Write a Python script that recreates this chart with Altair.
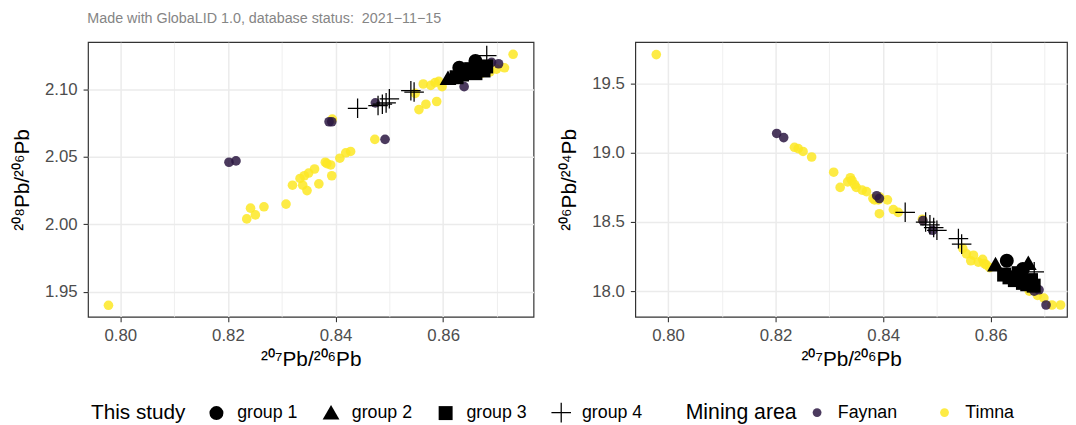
import altair as alt
import pandas as pd

# ---------------- data ----------------
timna_x = [0.7978, 0.8235, 0.8242, 0.8251, 0.8267, 0.8308, 0.8320, 0.8334, 0.8339, 0.8342,
           0.8347, 0.8350, 0.8361, 0.8369, 0.8381, 0.8384, 0.8391, 0.8393, 0.8394, 0.8408,
           0.8419, 0.8428, 0.8473, 0.8548, 0.8555, 0.8563, 0.8568, 0.8577, 0.8585, 0.8588,
           0.8592, 0.8598, 0.8672, 0.8687, 0.8699, 0.8714, 0.8730]
timna_y208 = [1.940, 2.004, 2.012, 2.007, 2.013, 2.015, 2.029, 2.034, 2.029, 2.036,
              2.025, 2.038, 2.041, 2.030, 2.046, 2.045, 2.044, 2.036, 2.078, 2.049,
              2.053, 2.054, 2.063, 2.097, 2.085, 2.104, 2.089, 2.103, 2.105, 2.091,
              2.106, 2.102, 2.112, 2.113, 2.115, 2.116, 2.126]
timna_y204 = [19.71, 19.04, 19.03, 19.01, 18.97, 18.86, 18.75, 18.79, 18.82, 18.80,
              18.77, 18.75, 18.73, 18.72, 18.67, 18.66, 18.66, 18.56, 18.68, 18.66,
              18.59, 18.57, 18.52, 18.31, 18.27, 18.22, 18.26, 18.21, 18.23, 18.20,
              18.19, 18.17, 18.00, 17.97, 17.95, 17.90, 17.90]

faynan_x = [0.8202, 0.8215, 0.8388, 0.8393, 0.8474, 0.8492, 0.8639, 0.8662, 0.8681, 0.8690, 0.8703]
faynan_y208 = [2.046, 2.047, 2.076, 2.076, 2.090, 2.063, 2.102, 2.118, 2.116, 2.120, 2.119]
faynan_y204 = [19.14, 19.11, 18.69, 18.67, 18.51, 18.44, 18.09, 18.06, 18.00, 18.01, 17.90]

study_group = ["group 1", "group 1",
               "group 2", "group 2",
               "group 3", "group 3", "group 3", "group 3", "group 3", "group 3", "group 3", "group 3",
               "group 4", "group 4", "group 4", "group 4", "group 4", "group 4", "group 4", "group 4"]
study_x = [0.8630, 0.8660,
           0.8609, 0.8670,
           0.8625, 0.8635, 0.8645, 0.8652, 0.8660, 0.8668, 0.8675, 0.8680,
           0.8441, 0.8479, 0.8487, 0.8494, 0.8500, 0.8540, 0.8546, 0.8681]
study_y208 = [2.116, 2.121,
              2.108, 2.116,
              2.109, 2.111, 2.113, 2.115, 2.112, 2.116, 2.114, 2.117,
              2.086, 2.088, 2.089, 2.090, 2.093, 2.099, 2.098, 2.125]
study_y204 = [18.22, 18.16,
              18.19, 18.20,
              18.12, 18.10, 18.08, 18.13, 18.06, 18.05, 18.08, 18.04,
              18.57, 18.50, 18.48, 18.46, 18.44, 18.38, 18.34, 18.14]

area_names = ["Faynan", "Timna"]
area_colors = ["#2B1742", "#FDE725"]
group_names = ["group 1", "group 2", "group 3", "group 4"]
# larger triangle and a thin plus sign drawn as filled outlines (so they show in the legend too)
tri_path = "M0,-1.15L1.2,0.93L-1.2,0.93Z"
plus_path = ("M-1.4,-0.09L1.4,-0.09L1.4,0.09L-1.4,0.09Z"
             "M-0.09,-1.4L0.09,-1.4L0.09,1.4L-0.09,1.4Z")
group_shapes = ["circle", tri_path, "square", plus_path]

x_major = [0.80, 0.82, 0.84, 0.86]
x_minor = [0.81, 0.83, 0.85, 0.87]
y208_major = [1.95, 2.00, 2.05, 2.10]
y208_minor = [1.975, 2.025, 2.075, 2.125]
y204_major = [18.0, 18.5, 19.0, 19.5]
y204_minor = [18.25, 18.75, 19.25, 19.75]

title_text = "Made with GlobaLID 1.0, database status:\u00a0 2021\u221211\u221215"
x_title = "\u00b2\u2070\u2077Pb/\u00b2\u2070\u2076Pb"
y208_title = "\u00b2\u2070\u2078Pb/\u00b2\u2070\u2076Pb"
y204_title = "\u00b2\u2070\u2076Pb/\u00b2\u2070\u2074Pb"

FONT = "Liberation Sans"

mining_df = pd.DataFrame({
    "x": timna_x + faynan_x,
    "y208": timna_y208 + faynan_y208,
    "y204": timna_y204 + faynan_y204,
    "area": ["Timna"] * len(timna_x) + ["Faynan"] * len(faynan_x),
})
study_df = pd.DataFrame({"x": study_x, "y208": study_y208, "y204": study_y204, "group": study_group})


def make_axis(major, minor, fmt, title, orient, title_pad):
    test = "indexof([%s], datum.value) >= 0" % ",".join(repr(v) for v in major)
    return alt.Axis(
        values=major + minor, title=title, orient=orient,
        labelExpr=f"({test}) ? format(datum.value, '{fmt}') : ''",
        gridWidth={"condition": {"test": test, "value": 1.5}, "value": 0.8},
        tickOpacity={"condition": {"test": test, "value": 1}, "value": 0},
        titlePadding=title_pad, labelOverlap=False,
    )


LEG_Y = 366
color_legend = alt.Legend(
    title="Mining area", orient="none", legendX=605, legendY=LEG_Y, direction="horizontal",
    titleOrient="left", titleFontSize=21.5, titleFont=FONT, titleFontWeight="normal",
    titleColor="black", labelFontSize=18, labelFont=FONT, labelColor="black",
    symbolSize=80, symbolOpacity=0.85, symbolStrokeWidth=0, symbolType="circle",
    titlePadding=11, labelOffset=12, columnPadding=38, titleLimit=300,
)
shape_legend = alt.Legend(
    title="This study", orient="none", legendX=3, legendY=LEG_Y, direction="horizontal",
    titleOrient="left", titleFontSize=21, titleFont=FONT, titleFontWeight="normal",
    titleColor="black", labelFontSize=18, labelFont=FONT, labelColor="black",
    symbolSize=200, symbolFillColor="black", symbolStrokeWidth=0,
    titlePadding=22, labelOffset=12, columnPadding=24, titleLimit=300,
)


def panel(ycol, ydomain, ymajor, yminor, yfmt, ytitle, xdomain, width):
    xenc = alt.X("x:Q", scale=alt.Scale(domain=xdomain, nice=False, zero=False),
                 axis=make_axis(x_major, x_minor, ".2f", x_title, "bottom", 5))
    yenc = alt.Y(f"{ycol}:Q", scale=alt.Scale(domain=ydomain, nice=False, zero=False),
                 axis=make_axis(ymajor, yminor, yfmt, ytitle, "left", 12))
    mining = alt.Chart(mining_df).mark_circle(size=95, opacity=0.85).encode(
        x=xenc, y=yenc,
        color=alt.Color("area:N", scale=alt.Scale(domain=area_names, range=area_colors),
                        legend=color_legend),
    )
    study = alt.Chart(study_df).mark_point(
        filled=True, size=200, fill="black", strokeWidth=0, opacity=1
    ).encode(
        x=alt.X("x:Q"), y=alt.Y(f"{ycol}:Q"),
        shape=alt.Shape("group:N", scale=alt.Scale(domain=group_names, range=group_shapes),
                        legend=shape_legend),
    )
    return alt.layer(mining, study).properties(width=width, height=278)


left = panel("y208", [1.9315, 2.135], y208_major, y208_minor, ".2f", y208_title,
             [0.794, 0.8768], 451)
right = panel("y204", [17.815, 19.80], y204_major, y204_minor, ".1f", y204_title,
              [0.7939, 0.8742], 437)

chart = alt.hconcat(left, right, spacing=24).resolve_scale(
    x="independent", y="independent", color="shared", shape="shared"
).properties(
    padding={"left": 3, "top": 0, "right": 0, "bottom": 0},
    title=alt.TitleParams(title_text, anchor="start", fontSize=14.5, font=FONT,
                          fontWeight="normal", color="#858585", dx=77, offset=15),
).configure_view(
    stroke="#333333", strokeWidth=1.2
).configure_axis(
    domain=False, gridColor="#EBEBEB", tickColor="#333333", tickSize=5, tickWidth=1.1,
    labelColor="#4D4D4D", labelFont=FONT, labelFontSize=17, labelPadding=6,
    titleFont=FONT, titleFontSize=21, titleFontWeight="normal", titleColor="black",
)

chart.save("out.html", embed_options={"renderer": "svg", "actions": False})
